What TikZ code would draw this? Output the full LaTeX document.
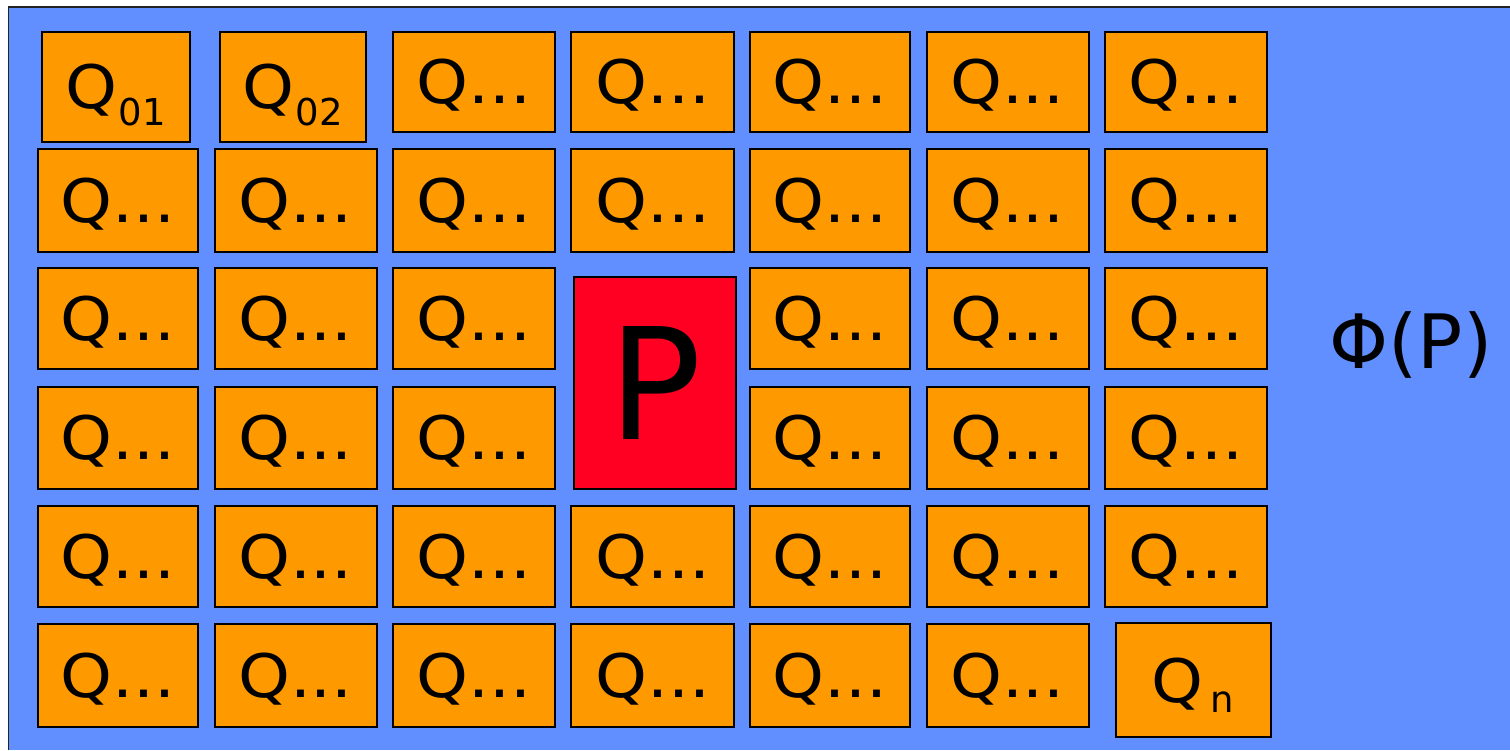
\documentclass[tikz,border=0pt]{standalone}
\usepackage{fontspec}
\setmainfont{DejaVu Sans}
\newfontfamily\qfont[FakeStretch=1.1]{DejaVu Sans}
\definecolor{bgblue}{HTML}{618FFF}
\definecolor{qorange}{HTML}{FF9900}
\definecolor{pred}{HTML}{FF0022}
\definecolor{frame}{HTML}{222222}
\newcommand\qcell[6]{\node[qbox,minimum width=#4pt,minimum height=#5pt] (#1) at (#2,#3) {#6};}
\newcommand\qsub[3]{Q\kern#1pt\raisebox{-#2pt}{\rmfamily\fontsize{37}{37}\selectfont #3}}
\begin{document}
\begin{tikzpicture}[x=1pt,y=-1pt,
  qbox/.style={draw=black, line width=2pt, fill=qorange, inner sep=0pt,
    text height=43.5pt, text depth=0pt, font=\qfont\fontsize{60}{60}\selectfont},
  pbox/.style={draw=black, line width=2pt, fill=pred, inner sep=0pt,
    text height=113pt, text depth=0pt, font=\fontsize{155}{155}\selectfont},
  philabel/.style={inner sep=0pt, text height=55pt, text depth=0pt,
    font=\fontsize{75}{75}\selectfont}]
\useasboundingbox (0,0) rectangle (1510,750);
\fill[white] (0,0) rectangle (1510,750);
\fill[bgblue] (8.5,6.7) rectangle (1510,750);
\draw[frame, line width=1.8pt] (8.5,750) -- (8.5,6.7) -- (1510,6.7);
% row 1
\qcell{q01}{115.8}{86.8}{148.5}{110.5}{\qsub{1}{17}{01}}
\qcell{q02}{292.8}{86.8}{146.5}{110.5}{\qsub{1}{17}{02}}
\qcell{r1c3}{474}{81.5}{162}{100}{Q...}
\qcell{r1c4}{652.7}{81.5}{162.5}{100}{Q...}
\qcell{r1c5}{830.2}{81.5}{159.5}{100}{Q...}
\qcell{r1c6}{1007.5}{81.5}{162}{100}{Q...}
\qcell{r1c7}{1186.2}{81.5}{162.5}{100}{Q...}
% row 2
\qcell{r2c1}{118.2}{200.3}{159.5}{103}{Q...}
\qcell{r2c2}{295.5}{200.3}{162}{103}{Q...}
\qcell{r2c3}{474}{200.3}{162}{103}{Q...}
\qcell{r2c4}{652.7}{200.3}{162.5}{103}{Q...}
\qcell{r2c5}{830.2}{200.3}{159.5}{103}{Q...}
\qcell{r2c6}{1007.5}{200.3}{162}{103}{Q...}
\qcell{r2c7}{1186.2}{200.3}{162.5}{103}{Q...}
% row 3
\qcell{r3c1}{118.2}{318.5}{159.5}{101}{Q...}
\qcell{r3c2}{295.5}{318.5}{162}{101}{Q...}
\qcell{r3c3}{474}{318.5}{162}{101}{Q...}
\qcell{r3c5}{830.2}{318.5}{159.5}{101}{Q...}
\qcell{r3c6}{1007.5}{318.5}{162}{101}{Q...}
\qcell{r3c7}{1186.2}{318.5}{162.5}{101}{Q...}
% row 4
\qcell{r4c1}{118.2}{437.8}{159.5}{102.5}{Q...}
\qcell{r4c2}{295.5}{437.8}{162}{102.5}{Q...}
\qcell{r4c3}{474}{437.8}{162}{102.5}{Q...}
\qcell{r4c5}{830.2}{437.8}{159.5}{102.5}{Q...}
\qcell{r4c6}{1007.5}{437.8}{162}{102.5}{Q...}
\qcell{r4c7}{1186.2}{437.8}{162.5}{102.5}{Q...}
% P
\node[pbox, minimum width=162.4pt, minimum height=212.3pt] (p) at (655,382.7) {P};
% row 5
\qcell{r5c1}{118.2}{556.5}{159.5}{100.6}{Q...}
\qcell{r5c2}{295.5}{556.5}{162}{100.6}{Q...}
\qcell{r5c3}{474}{556.5}{162}{100.6}{Q...}
\qcell{r5c4}{652.7}{556.5}{162.5}{100.6}{Q...}
\qcell{r5c5}{830.2}{556.5}{159.5}{100.6}{Q...}
\qcell{r5c6}{1007.5}{556.5}{162}{100.6}{Q...}
\qcell{r5c7}{1186.2}{556.5}{162.5}{100.6}{Q...}
% row 6
\qcell{r6c1}{118.2}{675.6}{159.5}{103.7}{Q...}
\qcell{r6c2}{295.5}{675.6}{162}{103.7}{Q...}
\qcell{r6c3}{474}{675.6}{162}{103.7}{Q...}
\qcell{r6c4}{652.7}{675.6}{162.5}{103.7}{Q...}
\qcell{r6c5}{830.2}{675.6}{159.5}{103.7}{Q...}
\qcell{r6c6}{1007.5}{675.6}{162}{103.7}{Q...}
\qcell{qn}{1193}{680.3}{155}{114.3}{\qsub{7}{10}{n}}
% label
\node[philabel] (phi) at (1411,341) {Φ(P)};
\end{tikzpicture}
\end{document}
